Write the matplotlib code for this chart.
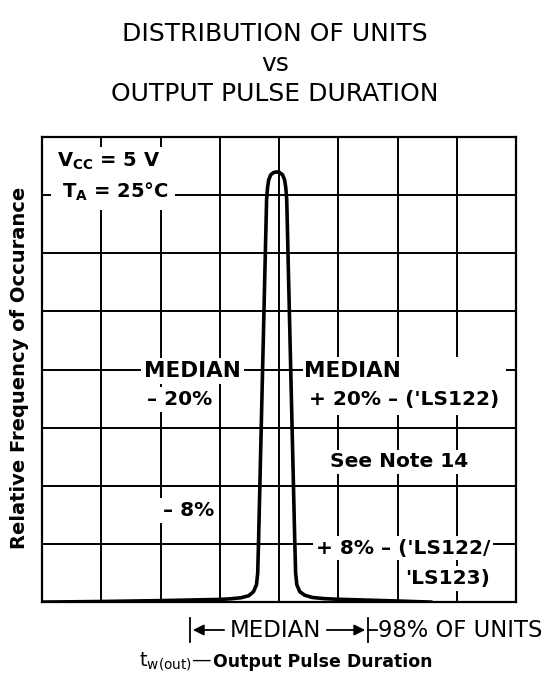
import matplotlib.pyplot as plt
from matplotlib.patches import Rectangle

plt.rcParams['font.family'] = ['DejaVu Sans']
plt.rcParams['mathtext.default'] = 'bf'

# curve (x in grid columns from the median, y in grid rows)
x_curve = [-3.96, -3.0, -2.0, -1.0, -0.8, -0.6, -0.47, -0.39, -0.34, -0.32, -0.305,
           -0.17, -0.155, -0.135, -0.1, -0.05, 0.0, 0.05, 0.1, 0.135, 0.155, 0.17,
           0.305, 0.32, 0.34, 0.39, 0.47, 0.6, 0.8, 1.0, 1.5, 2.0, 2.6]
y_curve = [0.0, 0.01, 0.025, 0.045, 0.055, 0.075, 0.11, 0.18, 0.3, 0.5, 1.07,
           6.92, 7.12, 7.26, 7.35, 7.39, 7.40, 7.39, 7.35, 7.26, 7.12, 6.92,
           1.07, 0.5, 0.3, 0.18, 0.12, 0.08, 0.06, 0.05, 0.035, 0.02, 0.0]
x_curve = [v - 0.04 for v in x_curve]

x_grid = [-3, -2, -1, 0, 1, 2, 3]
y_grid = [1, 2, 3, 4, 5, 6, 7]
span = [-1.5, 1.5]

title_lines = ["DISTRIBUTION OF UNITS", "vs", "OUTPUT PULSE DURATION"]

fig = plt.figure(figsize=(5.49, 6.75), dpi=100)
ax = fig.add_axes([0.0765, 0.108, 0.8635, 0.689])
ax.set_xlim(-4, 4)
ax.set_ylim(0, 8)
ax.set_xticks([])
ax.set_yticks([])
for s in ax.spines.values():
    s.set_linewidth(1.6)
for xv in x_grid:
    ax.axvline(xv, color='k', lw=1.4, zorder=1)
for yv in y_grid:
    ax.axhline(yv, color='k', lw=1.4, zorder=1)

ax.plot(x_curve, y_curve, color='k', lw=2.6, zorder=3, solid_joinstyle='round')

# blank areas behind the notes
ax.add_patch(Rectangle((-3.85, 6.75), 2.1, 1.08, facecolor='white', edgecolor='none', zorder=2))
ax.add_patch(Rectangle((0.4, 3.22), 3.43, 1.0, facecolor='white', edgecolor='none', zorder=2))
ax.text(-3.75, 7.59, "V$_{CC}$ = 5 V", fontsize=14, fontweight='bold', va='center', ha='left', zorder=5)
ax.text(-3.66, 7.06, "T$_{A}$ = 25°C", fontsize=14, fontweight='bold', va='center', ha='left', zorder=5)

wb = dict(facecolor='white', edgecolor='none', pad=2)
fs = 14.5
ax.text(-2.28, 3.98, "MEDIAN", fontsize=15.5, fontweight='bold', va='center', ha='left', bbox=wb, zorder=5)
ax.text(-2.22, 3.48, "– 20%", fontsize=fs, fontweight='bold', va='center', ha='left', bbox=wb, zorder=5)
ax.text(0.42, 3.98, "MEDIAN", fontsize=15.5, fontweight='bold', va='center', ha='left', zorder=5)
ax.text(0.5, 3.48, "+ 20% – ('LS122)", fontsize=fs, fontweight='bold', va='center', ha='left', zorder=5)
ax.text(2.03, 2.41, "See Note 14", fontsize=fs, fontweight='bold', va='center', ha='center', bbox=wb, zorder=5)
ax.text(-1.53, 1.58, "– 8%", fontsize=fs, fontweight='bold', va='center', ha='center', bbox=wb, zorder=5)
ax.text(3.56, 0.93, "+ 8% – ('LS122/", fontsize=fs, fontweight='bold', va='center', ha='right', bbox=wb, zorder=5)
ax.text(3.56, 0.41, "'LS123)", fontsize=fs, fontweight='bold', va='center', ha='right', bbox=wb, zorder=5)

# span of 98% of units under the axis
yb = -0.48
for xs in span:
    ax.plot([xs, xs], [yb - 0.21, yb + 0.21], color='k', lw=1.3, clip_on=False)
ax.annotate("", xy=(span[0], yb), xytext=(-0.88, yb), annotation_clip=False,
            arrowprops=dict(arrowstyle='-|>', color='k', lw=1.3, mutation_scale=16))
ax.annotate("", xy=(span[1], yb), xytext=(0.76, yb), annotation_clip=False,
            arrowprops=dict(arrowstyle='-|>', color='k', lw=1.3, mutation_scale=16))
ax.plot([span[1], span[1] + 0.15], [yb, yb], color='k', lw=1.3, clip_on=False)
ax.text(-0.06, yb, "MEDIAN", fontsize=16.5, va='center', ha='center')
ax.text(span[1] + 0.17, yb, "98% OF UNITS", fontsize=16.3, va='center', ha='left')

for i, line in enumerate(title_lines):
    fig.text(0.501, 0.95 - i * 0.0445, line, fontsize=18, ha='center', va='center')

fig.text(0.036, 0.455, "Relative Frequency of Occurance", fontsize=14, fontweight='bold',
         rotation=90, ha='center', va='center')
fig.text(0.387, 0.019, r"$\mathrm{t}_{\mathrm{w(out)}}$—", fontsize=14, ha='right', va='center')
fig.text(0.388, 0.019, "Output Pulse Duration", fontsize=12.5, fontweight='bold', ha='left', va='center')

fig.savefig("out.png", dpi=100)
